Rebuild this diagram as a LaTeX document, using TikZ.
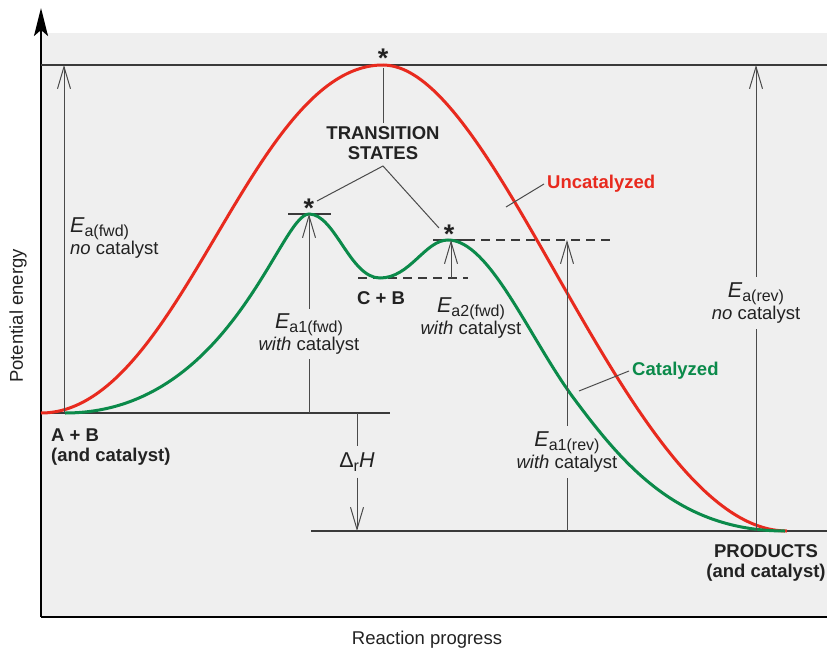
\documentclass[tikz,border=0pt]{standalone}
\usepackage{fontspec}
\setmainfont{Liberation Sans}
\usetikzlibrary{arrows.meta}
\definecolor{bggray}{HTML}{EFEFEF}
\definecolor{linegray}{HTML}{3A3A3A}
\definecolor{arrgray}{HTML}{4A4A4A}
\definecolor{ucred}{HTML}{E82A1E}
\definecolor{catgreen}{HTML}{0B8A4A}
\definecolor{txt}{HTML}{222222}
\newcommand{\EaSub}[1]{{\fontsize{21.5}{21.5}\selectfont\itshape E}\raisebox{-4pt}{\fontsize{16}{16}\selectfont #1}}
\tikzset{
  lbl/.style={font=\fontsize{18.5}{20.5}\selectfont, text=txt, align=center, inner sep=3pt},
  boldlbl/.style={lbl, font=\fontsize{18.5}{20.5}\selectfont\bfseries},
  level/.style={draw=linegray, line width=1.4pt},
  dashlevel/.style={draw=linegray, line width=1.4pt, dash pattern=on 9pt off 6pt},
  ea/.style={draw=arrgray, line width=1pt},
  eaarrow/.style={ea, -{Straight Barb[length=22pt,width=13pt,line width=1pt]}},
  leader/.style={draw=arrgray, line width=1pt},
  star/.style={font=\fontsize{27}{27}\selectfont\bfseries, text=txt, inner sep=0pt},
}
\begin{document}
\begin{tikzpicture}[x=1pt,y=-1pt]
\useasboundingbox (0,0) rectangle (827,653);
% background
\fill[bggray] (41,33) rectangle (827,616);
% axes
\draw[black, line width=2pt] (41,617) -- (827,617);
\coordinate (yb) at (41,617);
\coordinate (yt) at (41,8);
\draw[black, line width=2.4pt, -{Stealth[length=28pt,width=14pt,inset=6pt]}] (yb) -- (yt);
\node[lbl, rotate=90] (ylab) at (18,316) {Potential energy};
\node[lbl] (xlab) at (427,640) {Reaction progress};

% level lines
\coordinate (top0) at (41,65);  \coordinate (top1) at (827,65);
\draw[level] (top0) -- (top1);
\coordinate (r0) at (41,413); \coordinate (r1) at (390,413);
\draw[level] (r0) -- (r1);
\coordinate (p0) at (311,531); \coordinate (p1) at (827,531);
\draw[level] (p0) -- (p1);
\coordinate (ts1a) at (288,214); \coordinate (ts1b) at (331,214);
\draw[level] (ts1a) -- (ts1b);
\coordinate (ts2a) at (433,240); \coordinate (ts2b) at (466,240); \coordinate (ts2c) at (612,240);
\draw[level] (ts2a) -- (ts2b);
\draw[dashlevel] (ts2b) -- (ts2c);
\coordinate (cb0) at (358,278); \coordinate (cb1) at (468,278);
\draw[dashlevel] (cb0) -- (cb1);

% curves
\draw[ucred, line width=3pt] (41,413) .. controls (180,413) and (250,65) .. (383,65) .. controls (500,65) and (630,531) .. (787,531);
\draw[catgreen, line width=3pt] (65,413) .. controls (230,413) and (280,214) .. (309,214)
  .. controls (335,214) and (350,278) .. (380,278)
  .. controls (410,278) and (425,240) .. (448,240)
  .. controls (490,240) and (530,340) .. (575,400)
  .. controls (625,467) and (680,531) .. (785,531);

% stars
\node[star] (s0) at (383,58) {*};
\node[star] (s1) at (309,208) {*};
\node[star] (s2) at (449,234) {*};

% transition states
\node[boldlbl] (ts) at (383,143) {TRANSITION\\STATES};
\coordinate (tspk) at (383,68);
\draw[leader] (tspk) -- (ts.north);
\coordinate (tsv) at (383,166);
\coordinate (tsl) at (317,201);
\coordinate (tsr) at (439,228);
\draw[leader] (tsl) -- (tsv) -- (tsr);

% Ea(fwd) no catalyst
\coordinate (ea0b) at (64,413); \coordinate (ea0t) at (64,65);
\draw[eaarrow] (ea0b) -- (ea0t);
\node[lbl, anchor=west, align=left] (ea0l) at (67,238) {\EaSub{a(fwd)}\\\textit{no} catalyst};

% Ea(rev) no catalyst
\coordinate (earb) at (756,531); \coordinate (eart) at (756,65);
\node[lbl, inner sep=6pt] (earl) at (756,303) {\EaSub{a(rev)}\\\textit{no} catalyst};
\draw[ea] (earb) -- (earl.south);
\draw[eaarrow] (earl.north) -- (eart);

% Ea1(fwd)
\coordinate (e1b) at (309,413); \coordinate (e1t) at (309,214);
\node[lbl, inner sep=5pt] (e1l) at (309,334) {\EaSub{a1(fwd)}\\\textit{with} catalyst};
\draw[ea] (e1b) -- (e1l.south);
\draw[eaarrow] (e1l.north) -- (e1t);

% Ea2(fwd)
\coordinate (e2b) at (451,278); \coordinate (e2t) at (451,240);
\draw[eaarrow] (e2b) -- (e2t);
\node[lbl] (e2l) at (471,318) {\EaSub{a2(fwd)}\\\textit{with} catalyst};

% Ea1(rev)
\coordinate (e3b) at (567,531); \coordinate (e3t) at (567,240);
\node[lbl, inner sep=6pt] (e3l) at (567,452) {\EaSub{a1(rev)}\\\textit{with} catalyst};
\draw[ea] (e3b) -- (e3l.south);
\draw[eaarrow] (e3l.north) -- (e3t);

% Delta_r H
\coordinate (dht) at (357,413); \coordinate (dhb) at (357,531);
\node[lbl, inner sep=6pt] (dhl) at (357,462) {\fontsize{21.5}{21.5}\selectfont Δ\raisebox{-4pt}{\fontsize{16}{16}\selectfont r}\textit{H}};
\draw[ea] (dht) -- (dhl.north);
\draw[eaarrow] (dhl.south) -- (dhb);

% C + B
\node[boldlbl] (cb) at (381,298) {C + B};

% A + B
\node[boldlbl, anchor=west, align=left] (ab) at (48,447) {A + B\\(and catalyst)};
% Products
\node[boldlbl] (pr) at (766,563) {PRODUCTS\\(and catalyst)};

% curve labels
\node[boldlbl, text=ucred, anchor=west] (unc) at (544,184) {Uncatalyzed};
\coordinate (uncpt) at (506,207);
\draw[leader] (uncpt) -- (unc.west);
\node[boldlbl, text=catgreen, anchor=west] (cat) at (629,371) {Catalyzed};
\coordinate (catpt) at (579,391);
\draw[leader] (catpt) -- (cat.west);
\end{tikzpicture}
\end{document}
